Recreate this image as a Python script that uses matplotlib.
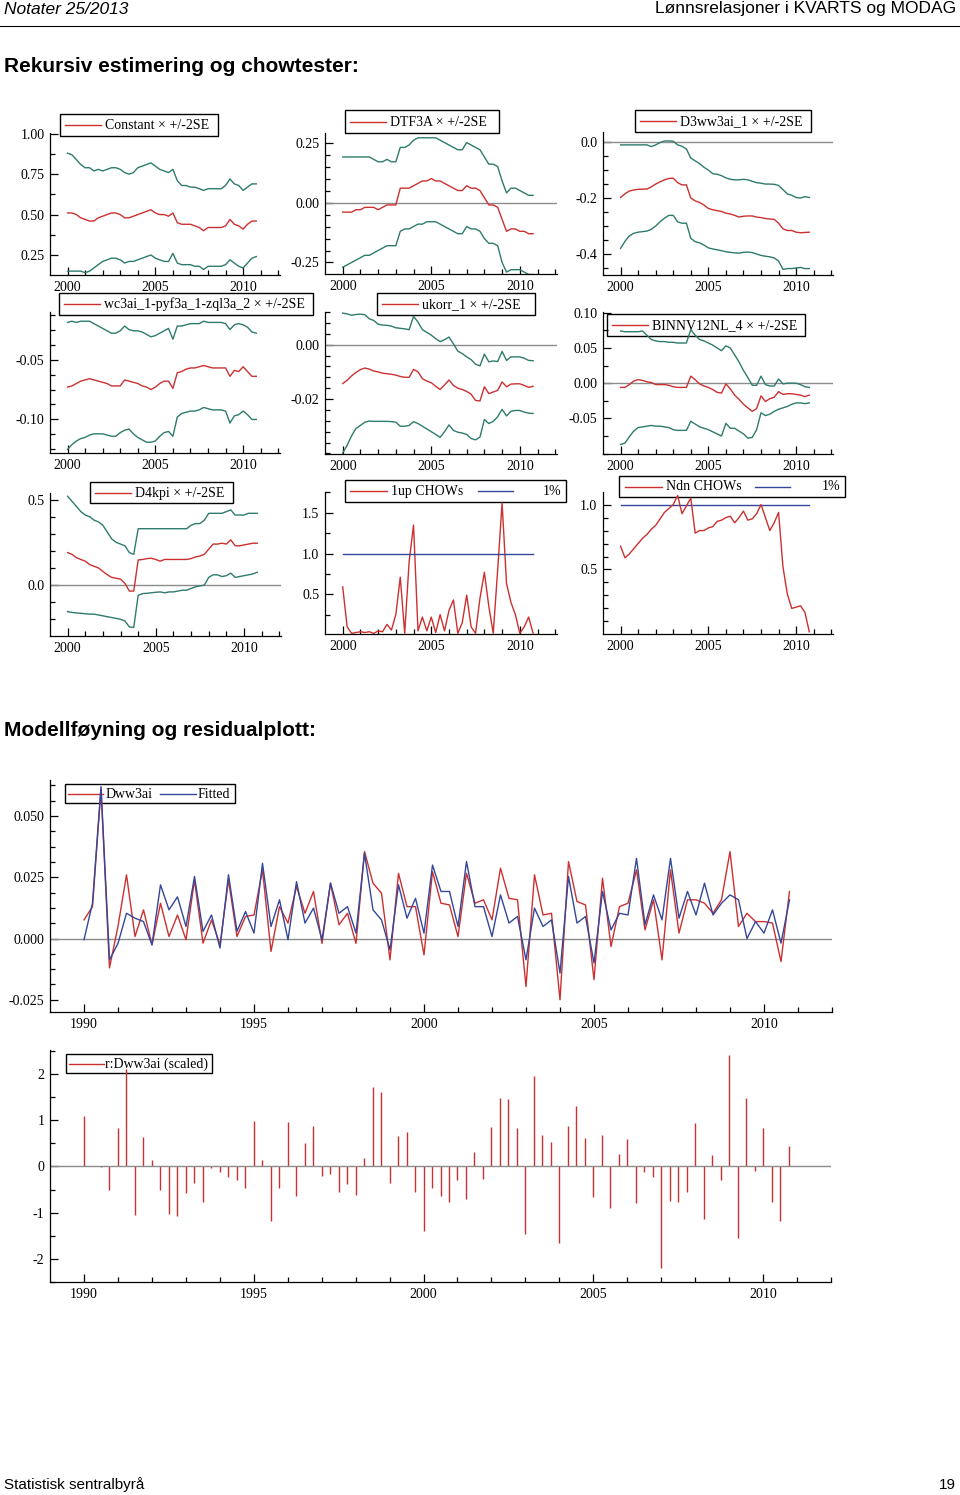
import numpy as np
import matplotlib
matplotlib.use('Agg')
import matplotlib.pyplot as plt
import matplotlib.transforms as mtransforms
from matplotlib.patches import Rectangle
from matplotlib.lines import Line2D
from matplotlib.ticker import FixedLocator, MultipleLocator, FormatStrFormatter

plt.rcParams['font.family'] = ['Liberation Serif', 'DejaVu Serif']
plt.rcParams['font.size'] = 10

W, H = 960, 1495
RED = '#cc3030'
TEAL = '#2e7b6d'
BLUE = '#34479a'
GRAY = '#8c8c8c'

# quarterly dates
rec_years = 2000 + np.arange(44) / 4
fit_years = 1990 + np.arange(84) / 4

# recursive coefficients, +/-2SE bands
const_coef = [0.51, 0.51, 0.50, 0.48, 0.47, 0.46, 0.46, 0.48, 0.49, 0.50, 0.51, 0.51, 0.50, 0.48, 0.48,
              0.49, 0.50, 0.51, 0.52, 0.53, 0.51, 0.50, 0.50, 0.49, 0.51, 0.45, 0.44, 0.44, 0.44, 0.43,
              0.42, 0.40, 0.42, 0.42, 0.42, 0.42, 0.43, 0.47, 0.44, 0.43, 0.41, 0.44, 0.46, 0.46]
const_hi = [0.88, 0.87, 0.84, 0.81, 0.79, 0.79, 0.77, 0.78, 0.77, 0.78, 0.79, 0.79, 0.78, 0.76, 0.75,
            0.76, 0.79, 0.80, 0.81, 0.82, 0.80, 0.78, 0.77, 0.76, 0.78, 0.71, 0.68, 0.68, 0.67, 0.67,
            0.66, 0.65, 0.66, 0.66, 0.66, 0.66, 0.68, 0.72, 0.69, 0.68, 0.65, 0.67, 0.69, 0.69]
const_lo = [0.15, 0.15, 0.15, 0.15, 0.14, 0.15, 0.17, 0.19, 0.21, 0.22, 0.23, 0.23, 0.22, 0.20, 0.21,
            0.21, 0.22, 0.23, 0.24, 0.25, 0.23, 0.22, 0.21, 0.21, 0.26, 0.20, 0.19, 0.19, 0.19, 0.18,
            0.18, 0.16, 0.18, 0.18, 0.18, 0.18, 0.19, 0.22, 0.20, 0.18, 0.17, 0.20, 0.23, 0.24]

dtf_coef = [-0.04, -0.04, -0.04, -0.03, -0.03, -0.02, -0.02, -0.02, -0.03, -0.02, -0.01, -0.01, -0.01,
            0.06, 0.06, 0.06, 0.07, 0.08, 0.09, 0.09, 0.10, 0.09, 0.09, 0.08, 0.07, 0.06, 0.05, 0.05,
            0.07, 0.06, 0.06, 0.05, 0.02, -0.01, -0.01, -0.02, -0.07, -0.12, -0.11, -0.11, -0.12, -0.12,
            -0.13, -0.13]
dtf_hi = [0.19, 0.19, 0.19, 0.19, 0.19, 0.19, 0.19, 0.18, 0.17, 0.17, 0.18, 0.17, 0.17, 0.23, 0.23,
          0.24, 0.26, 0.27, 0.27, 0.27, 0.27, 0.27, 0.26, 0.25, 0.24, 0.23, 0.22, 0.22, 0.25, 0.24,
          0.23, 0.22, 0.19, 0.16, 0.16, 0.15, 0.09, 0.04, 0.06, 0.06, 0.05, 0.04, 0.03, 0.03]
dtf_lo = [-0.27, -0.26, -0.25, -0.24, -0.23, -0.22, -0.22, -0.21, -0.20, -0.19, -0.18, -0.18, -0.18,
          -0.12, -0.11, -0.11, -0.10, -0.09, -0.09, -0.08, -0.08, -0.08, -0.09, -0.10, -0.11, -0.12,
          -0.13, -0.13, -0.10, -0.11, -0.11, -0.12, -0.15, -0.17, -0.17, -0.18, -0.25, -0.29, -0.28,
          -0.28, -0.28, -0.29, -0.30, -0.30]

d3_coef = [-0.198, -0.185, -0.175, -0.171, -0.169, -0.168, -0.168, -0.160, -0.150, -0.142, -0.135,
           -0.130, -0.129, -0.145, -0.153, -0.153, -0.200, -0.210, -0.216, -0.225, -0.237, -0.242,
           -0.245, -0.248, -0.254, -0.257, -0.262, -0.268, -0.265, -0.264, -0.264, -0.268, -0.270,
           -0.273, -0.275, -0.276, -0.290, -0.310, -0.316, -0.316, -0.322, -0.324, -0.323, -0.322]
d3_hi = [-0.010, -0.010, -0.010, -0.010, -0.010, -0.010, -0.010, -0.016, -0.010, -0.002, 0.004, 0.004,
         0.003, -0.010, -0.015, -0.025, -0.057, -0.067, -0.077, -0.090, -0.100, -0.113, -0.115, -0.120,
         -0.128, -0.133, -0.135, -0.135, -0.133, -0.135, -0.140, -0.145, -0.147, -0.150, -0.150, -0.151,
         -0.155, -0.170, -0.185, -0.190, -0.198, -0.200, -0.195, -0.198]
d3_lo = [-0.380, -0.355, -0.335, -0.326, -0.322, -0.320, -0.318, -0.312, -0.300, -0.285, -0.272, -0.262,
         -0.262, -0.285, -0.290, -0.290, -0.344, -0.356, -0.360, -0.368, -0.378, -0.382, -0.385, -0.388,
         -0.392, -0.394, -0.396, -0.397, -0.394, -0.393, -0.395, -0.400, -0.405, -0.408, -0.410, -0.414,
         -0.425, -0.455, -0.452, -0.452, -0.450, -0.448, -0.452, -0.452]

wc_coef = [-0.073, -0.072, -0.070, -0.068, -0.067, -0.066, -0.067, -0.068, -0.069, -0.070, -0.072,
           -0.072, -0.072, -0.067, -0.068, -0.069, -0.070, -0.072, -0.073, -0.075, -0.073, -0.070,
           -0.068, -0.068, -0.074, -0.061, -0.060, -0.058, -0.057, -0.057, -0.056, -0.055, -0.056,
           -0.057, -0.057, -0.057, -0.057, -0.064, -0.059, -0.060, -0.056, -0.060, -0.064, -0.064]
wc_hi = [-0.019, -0.018, -0.019, -0.018, -0.018, -0.018, -0.020, -0.022, -0.024, -0.026, -0.028, -0.028,
         -0.026, -0.022, -0.025, -0.026, -0.026, -0.027, -0.029, -0.031, -0.030, -0.028, -0.026, -0.024,
         -0.033, -0.022, -0.022, -0.021, -0.020, -0.020, -0.020, -0.018, -0.019, -0.019, -0.019, -0.019,
         -0.020, -0.025, -0.021, -0.020, -0.021, -0.023, -0.027, -0.028]
wc_lo = [-0.125, -0.121, -0.118, -0.116, -0.115, -0.113, -0.112, -0.112, -0.112, -0.113, -0.114, -0.114,
         -0.111, -0.109, -0.108, -0.112, -0.115, -0.117, -0.119, -0.119, -0.118, -0.114, -0.111, -0.110,
         -0.114, -0.098, -0.095, -0.094, -0.093, -0.093, -0.092, -0.090, -0.091, -0.092, -0.092, -0.092,
         -0.093, -0.103, -0.097, -0.096, -0.093, -0.096, -0.100, -0.100]

uk_coef = [-0.0143, -0.0131, -0.0115, -0.0102, -0.0092, -0.0086, -0.0090, -0.0097, -0.0100, -0.0105,
           -0.0107, -0.0109, -0.0112, -0.0117, -0.0120, -0.0120, -0.0091, -0.0100, -0.0125, -0.0134,
           -0.0140, -0.0153, -0.0165, -0.0148, -0.0130, -0.0150, -0.0160, -0.0165, -0.0172, -0.0182,
           -0.0205, -0.0207, -0.0155, -0.0180, -0.0174, -0.0168, -0.0137, -0.0155, -0.0145, -0.0144,
           -0.0144, -0.0150, -0.0157, -0.0153]
uk_hi = [0.0116, 0.0113, 0.0108, 0.0111, 0.0112, 0.0110, 0.0095, 0.0089, 0.0075, 0.0072, 0.0071, 0.0068,
         0.0062, 0.0060, 0.0058, 0.0055, 0.0104, 0.0083, 0.0055, 0.0045, 0.0035, 0.0022, 0.0011, 0.0018,
         0.0028, 0.0003, -0.0024, -0.0033, -0.0045, -0.0055, -0.0072, -0.0078, -0.0035, -0.0063,
         -0.0060, -0.0062, -0.0025, -0.0058, -0.0045, -0.0045, -0.0045, -0.0050, -0.0058, -0.0059]
uk_lo = [-0.0398, -0.0370, -0.0335, -0.0308, -0.0297, -0.0285, -0.0281, -0.0282, -0.0282, -0.0282,
         -0.0282, -0.0283, -0.0285, -0.0300, -0.0300, -0.0297, -0.0283, -0.0290, -0.0300, -0.0310,
         -0.0320, -0.0330, -0.0341, -0.0320, -0.0295, -0.0315, -0.0322, -0.0325, -0.0330, -0.0345,
         -0.0350, -0.0340, -0.0275, -0.0290, -0.0282, -0.0265, -0.0238, -0.0262, -0.0245, -0.0242,
         -0.0242, -0.0248, -0.0252, -0.0253]

bn_coef = [-0.006, -0.006, -0.002, 0.003, 0.005, 0.004, 0.002, 0.001, -0.002, -0.002, -0.002, -0.003,
           -0.005, -0.006, -0.006, -0.006, 0.010, 0.005, -0.001, -0.004, -0.006, -0.009, -0.013, -0.014,
           -0.001, -0.008, -0.017, -0.023, -0.030, -0.035, -0.040, -0.036, -0.018, -0.026, -0.022,
           -0.020, -0.012, -0.016, -0.015, -0.015, -0.016, -0.017, -0.019, -0.017]
bn_hi = [0.074, 0.073, 0.073, 0.073, 0.073, 0.074, 0.068, 0.062, 0.060, 0.059, 0.059, 0.058, 0.058,
         0.057, 0.057, 0.057, 0.076, 0.068, 0.062, 0.060, 0.057, 0.054, 0.050, 0.046, 0.053, 0.050,
         0.040, 0.030, 0.018, 0.008, -0.003, -0.003, 0.010, -0.002, -0.004, -0.004, 0.006, -0.001,
         0.000, 0.000, 0.000, -0.002, -0.005, -0.006]
bn_lo = [-0.087, -0.085, -0.076, -0.068, -0.063, -0.062, -0.061, -0.060, -0.061, -0.061, -0.062, -0.063,
         -0.066, -0.067, -0.067, -0.067, -0.054, -0.058, -0.062, -0.064, -0.066, -0.069, -0.072, -0.075,
         -0.057, -0.064, -0.064, -0.068, -0.072, -0.078, -0.077, -0.066, -0.042, -0.046, -0.044, -0.040,
         -0.037, -0.035, -0.033, -0.030, -0.028, -0.028, -0.029, -0.028]

kpi_coef = [0.19, 0.18, 0.16, 0.15, 0.14, 0.12, 0.11, 0.10, 0.08, 0.06, 0.045, 0.04, 0.035, 0.01, -0.035,
            -0.035, 0.147, 0.15, 0.155, 0.157, 0.15, 0.14, 0.15, 0.15, 0.15, 0.15, 0.15, 0.15, 0.155,
            0.165, 0.17, 0.18, 0.21, 0.24, 0.24, 0.245, 0.24, 0.265, 0.23, 0.23, 0.235, 0.24, 0.245, 0.245]
kpi_hi = [0.52, 0.49, 0.46, 0.43, 0.41, 0.40, 0.38, 0.37, 0.35, 0.31, 0.27, 0.25, 0.24, 0.23, 0.19, 0.18,
          0.33, 0.33, 0.33, 0.33, 0.33, 0.33, 0.33, 0.33, 0.33, 0.33, 0.33, 0.33, 0.35, 0.36, 0.36, 0.38,
          0.42, 0.42, 0.42, 0.42, 0.43, 0.44, 0.41, 0.41, 0.41, 0.42, 0.42, 0.42]
kpi_lo = [-0.155, -0.16, -0.163, -0.165, -0.168, -0.17, -0.17, -0.175, -0.18, -0.185, -0.19, -0.195, -0.2,
          -0.21, -0.245, -0.248, -0.06, -0.05, -0.048, -0.045, -0.042, -0.04, -0.045, -0.04, -0.04,
          -0.035, -0.03, -0.03, -0.02, -0.01, -0.005, 0.0, 0.045, 0.06, 0.06, 0.05, 0.055, 0.07, 0.045,
          0.05, 0.055, 0.06, 0.065, 0.075]

# Chow tests, scaled by 1% critical value
chow_1up = [0.59, 0.10, 0.02, 0.03, 0.04, 0.03, 0.04, 0.02, 0.05, 0.04, 0.13, 0.06, 0.25, 0.71, 0.02,
            0.90, 1.35, 0.05, 0.22, 0.05, 0.22, 0.03, 0.25, 0.05, 0.30, 0.43, 0.02, 0.15, 0.49, 0.10,
            0.02, 0.45, 0.77, 0.35, 0.02, 0.80, 1.62, 0.63, 0.40, 0.25, 0.02, 0.10, 0.22, 0.02]
chow_ndn = [0.68, 0.59, 0.62, 0.66, 0.70, 0.74, 0.77, 0.81, 0.84, 0.89, 0.94, 0.97, 1.00, 1.07, 0.93,
            0.99, 1.05, 0.78, 0.80, 0.80, 0.82, 0.83, 0.87, 0.88, 0.90, 0.91, 0.86, 0.90, 0.95, 0.88,
            0.89, 0.93, 1.00, 0.90, 0.80, 0.86, 0.94, 0.52, 0.31, 0.20, 0.21, 0.22, 0.17, 0.02]
crit_1pct = 1.0

# model fit
dww3ai = [0.0076, 0.013, 0.061, -0.012, 0.005, 0.026, 0.0008, 0.0117, -0.0026, 0.0144,
          0.0008, 0.0096, -0.0005, 0.0239, -0.0019, 0.0076, -0.0026, 0.0239, 0.0008, 0.009,
          0.0096, 0.028, -0.0053, 0.013, 0.0063, 0.0212, 0.0103, 0.0192, -0.002, 0.0226,
          0.0056, 0.0103, -0.002, 0.0355, 0.0226, 0.0185, -0.0087, 0.0266, 0.013, 0.013,
          -0.0067, 0.0273, 0.0144, 0.0137, 0.0008, 0.0266, 0.0144, 0.0158, 0.0076, 0.0287,
          0.0164, 0.0158, -0.0196, 0.026, 0.0096, 0.0103, -0.025, 0.0314, 0.0151, 0.0137,
          -0.0168, 0.0246, -0.0033, 0.013, 0.0144, 0.028, 0.0035, 0.0158, -0.0087, 0.028,
          0.0022, 0.0158, 0.0158, 0.0144, 0.0103, 0.0158, 0.0355, 0.0049, 0.0103, 0.0069,
          0.0069, 0.0063, -0.0094, 0.0192]
fitted = [-0.0005, 0.0144, 0.062, -0.0087, -0.002, 0.0103, 0.0083, 0.0069, -0.0026, 0.0219,
          0.0117, 0.017, 0.0049, 0.0253, 0.0029, 0.0096, -0.0039, 0.026, 0.0029, 0.011,
          0.0022, 0.0307, 0.0049, 0.0158, -0.0005, 0.0232, 0.0063, 0.0124, -0.0005, 0.0226,
          0.0103, 0.013, 0.0022, 0.0348, 0.0117, 0.0076, -0.0046, 0.0219, 0.0083, 0.0164,
          0.0022, 0.03, 0.0192, 0.0192, 0.0049, 0.0314, 0.013, 0.013, 0.0008, 0.0178,
          0.0063, 0.009, -0.0087, 0.0124, 0.0049, 0.0076, -0.0141, 0.0253, 0.0063, 0.009,
          -0.01, 0.0192, 0.0035, 0.0103, 0.0096, 0.0327, 0.0056, 0.0178, 0.0076, 0.0327,
          0.0083, 0.0192, 0.0096, 0.0226, 0.0096, 0.0144, 0.0178, 0.0158, 0.0, 0.0069,
          0.0022, 0.0117, -0.0019, 0.0158]
resid_scaled = [1.10, 0.02, -0.02, -0.52, 0.84, 2.10, -1.05, 0.63, 0.13, -0.52,
                -1.02, -1.07, -0.57, -0.35, -0.77, -0.04, -0.13, -0.23, -0.30, -0.47,
                0.99, 0.13, -1.17, -0.46, 0.96, -0.64, 0.50, 0.87, -0.21, -0.17,
                -0.55, -0.38, -0.61, 0.19, 1.73, 1.62, -0.35, 0.66, 0.75, -0.55,
                -1.40, -0.46, -0.64, -0.77, -0.29, -0.70, 0.32, -0.27, 0.86, 1.48,
                1.46, 0.84, -1.46, 1.96, 0.69, 0.53, -1.66, 0.87, 1.31, 0.62,
                -0.67, 0.69, -0.90, 0.28, 0.60, -0.80, -0.13, -0.23, -2.20, -0.74,
                -0.76, -0.55, 0.93, -1.14, 0.25, -0.30, 2.42, -1.55, 1.48, -0.10,
                0.84, -0.77, -1.17, 0.44]


fig = plt.figure(figsize=(W / 100, H / 100), dpi=100)
# pixel coordinates, origin top left
PX = mtransforms.Affine2D().scale(1 / W, -1 / H).translate(0, 1) + fig.transFigure


def make_panel(box, xlim, ylim, yticks, yminor, yfmt, xticks=(2000, 2005, 2010), xminor=range(2000, 2013)):
    """Axes placed by pixel box (left, top, right, bottom), PcGive style inward ticks."""
    x0, y0, x1, y1 = box
    ax = fig.add_axes([x0 / W, 1 - y1 / H, (x1 - x0) / W, (y1 - y0) / H])
    ax.patch.set_visible(False)
    ax.spines['top'].set_visible(False)
    ax.spines['right'].set_visible(False)
    for s in ('left', 'bottom'):
        ax.spines[s].set_linewidth(0.9)
    ax.set_xlim(*xlim)
    ax.set_ylim(*ylim)
    ax.xaxis.set_major_locator(FixedLocator(list(xticks)))
    ax.xaxis.set_minor_locator(FixedLocator(list(xminor)))
    ax.xaxis.set_major_formatter(FormatStrFormatter('%d'))
    ax.yaxis.set_major_locator(FixedLocator(yticks))
    ax.yaxis.set_minor_locator(MultipleLocator(yminor))
    ax.yaxis.set_major_formatter(FormatStrFormatter(yfmt))
    ax.tick_params(which='both', direction='in', labelsize=10, width=0.9)
    ax.tick_params(which='major', length=6, pad=4)
    ax.tick_params(which='minor', length=3.5)
    return ax


def legend_box(ax, box, items):
    """items: (color, line_x0, line_x1, label, text_x, ha) in pixels."""
    x0, y0, x1, y1 = box
    ax.add_patch(Rectangle((x0, y0), x1 - x0, y1 - y0, transform=PX, fc='white', ec='black',
                           lw=1.0, clip_on=False, zorder=1))
    ym = (y0 + y1) / 2
    for color, lx0, lx1, label, tx, ha in items:
        ax.add_line(Line2D([lx0, lx1], [ym, ym], transform=PX, color=color, lw=1.0,
                           clip_on=False, zorder=1.5))
        ax.text(tx, ym + 0.5, label, transform=PX, ha=ha, va='center', fontsize=10,
                clip_on=False, zorder=1.5)


def coef_panel(box, ylim, yticks, yminor, yfmt, coef, hi, lo, label, lbox, zero=True):
    ax = make_panel(box, (1999.0, 2012.1), ylim, yticks, yminor, yfmt)
    if zero:
        ax.axhline(0, color=GRAY, lw=1.0, zorder=1.8)
    ax.plot(rec_years, hi, color=TEAL, lw=1.0, zorder=2)
    ax.plot(rec_years, lo, color=TEAL, lw=1.0, zorder=2)
    ax.plot(rec_years, coef, color=RED, lw=1.0, zorder=2)
    legend_box(ax, lbox, [(RED, lbox[0] + 5, lbox[0] + 41, label, lbox[0] + 45, 'left')])
    return ax


coef_panel((50, 133, 280, 275), (0.126, 1.005), [0.25, 0.5, 0.75, 1.0], 0.125, '%.2f',
           const_coef, const_hi, const_lo, 'Constant × +/-2SE', (60, 114, 218, 136), zero=False)
coef_panel((325, 133, 557, 274), (-0.298, 0.29), [-0.25, 0.0, 0.25], 0.05, '%.2f',
           dtf_coef, dtf_hi, dtf_lo, 'DTF3A × +/-2SE', (345, 110, 499, 133))
coef_panel((603, 132, 833, 275), (-0.475, 0.036), [-0.4, -0.2, 0.0], 0.05, '%.1f',
           d3_coef, d3_hi, d3_lo, 'D3ww3ai_1 × +/-2SE', (635, 110, 811, 132))
coef_panel((50, 312, 280, 453), (-0.128, -0.0103), [-0.10, -0.05], 0.0125, '%.2f',
           wc_coef, wc_hi, wc_lo, 'wc3ai_1-pyf3a_1-zql3a_2 × +/-2SE', (59, 293, 313, 315), zero=False)
coef_panel((325, 312, 557, 454), (-0.0402, 0.012), [-0.02, 0.0], 0.004, '%.2f',
           uk_coef, uk_hi, uk_lo, 'ukorr_1 × +/-2SE', (377, 293, 535, 315))
coef_panel((603, 312, 833, 454), (-0.1005, 0.101), [-0.05, 0.0, 0.05, 0.10], 0.025, '%.2f',
           bn_coef, bn_hi, bn_lo, 'BINNV12NL_4 × +/-2SE', (607, 314, 805, 336))
coef_panel((50, 493, 281, 636), (-0.298, 0.539), [0.0, 0.5], 0.1, '%.1f',
           kpi_coef, kpi_hi, kpi_lo, 'D4kpi × +/-2SE', (90, 482, 233, 503))

# Chow tests
ax8 = make_panel((325, 492, 557, 634), (1999.0, 2012.1), (0.012, 1.755), [0.5, 1.0, 1.5], 0.25, '%.1f')
ax8.plot(rec_years, chow_1up, color=RED, lw=1.0, zorder=2)
ax8.plot([rec_years[0], rec_years[-1]], [crit_1pct, crit_1pct], color=BLUE, lw=1.0, zorder=2)
legend_box(ax8, (345, 480, 566, 502), [(RED, 350, 387, '1up CHOWs', 391, 'left'),
                                       (BLUE, 478, 513, '1%', 561, 'right')])

ax9 = make_panel((603, 492, 833, 634), (1999.0, 2012.1), (0.003, 1.097), [0.5, 1.0], 0.1, '%.1f')
ax9.plot([rec_years[0], rec_years[-1]], [crit_1pct, crit_1pct], color=BLUE, lw=1.0, zorder=2)
ax9.plot(rec_years, chow_ndn, color=RED, lw=1.0, zorder=2)
legend_box(ax9, (619, 476, 845, 497), [(RED, 625, 662, 'Ndn CHOWs', 666, 'left'),
                                       (BLUE, 755, 790, '1%', 840, 'right')])

# actual and fitted
axf = make_panel((50, 780, 832, 1012), (1989.0, 2012.0), (-0.030, 0.0647),
                 [-0.025, 0.0, 0.025, 0.05], 0.00625, '%.3f',
                 xticks=(1990, 1995, 2000, 2005, 2010), xminor=range(1990, 2013))
axf.axhline(0, color=GRAY, lw=1.0, zorder=1.8)
axf.plot(fit_years, dww3ai, color=RED, lw=1.0, zorder=2)
axf.plot(fit_years, fitted, color=BLUE, lw=1.0, zorder=2.1)
legend_box(axf, (65, 784, 235, 803), [(RED, 68, 103, 'Dww3ai', 106, 'left'),
                                      (BLUE, 160, 196, 'Fitted', 198, 'left')])

# scaled residuals
axr = make_panel((50, 1050, 831, 1282), (1989.0, 2012.0), (-2.50, 2.52), [-2, -1, 0, 1, 2], 0.5, '%d',
                 xticks=(1990, 1995, 2000, 2005, 2010), xminor=range(1990, 2013))
axr.vlines(fit_years, 0, resid_scaled, color=RED, lw=1.0, zorder=2)
axr.axhline(0, color=GRAY, lw=1.0, zorder=2.1)
legend_box(axr, (66, 1054, 212, 1073), [(RED, 69, 104, 'r:Dww3ai (scaled)', 105, 'left')])

# page header, titles, footer
sans = ['Liberation Sans', 'DejaVu Sans']
fig.text(4, 9, 'Notater 25/2013', transform=PX, ha='left', va='center', fontsize=12.5,
         style='italic', family=sans)
fig.text(956, 9, 'Lønnsrelasjoner i KVARTS og MODAG', transform=PX, ha='right', va='center',
         fontsize=12.5, family=sans)
fig.add_artist(Line2D([0, 960], [25.5, 25.5], transform=PX, color='black', lw=0.8))
fig.text(4, 66, 'Rekursiv estimering og chowtester:', transform=PX, ha='left', va='center',
         fontsize=15, weight='bold', family=sans)
fig.text(4, 730, 'Modellføyning og residualplott:', transform=PX, ha='left', va='center',
         fontsize=15, weight='bold', family=sans)
fig.text(4, 1485, 'Statistisk sentralbyrå', transform=PX, ha='left', va='center', fontsize=11,
         family=sans)
fig.text(956, 1485, '19', transform=PX, ha='right', va='center', fontsize=11, family=sans)

fig.savefig('out.png', dpi=100)
